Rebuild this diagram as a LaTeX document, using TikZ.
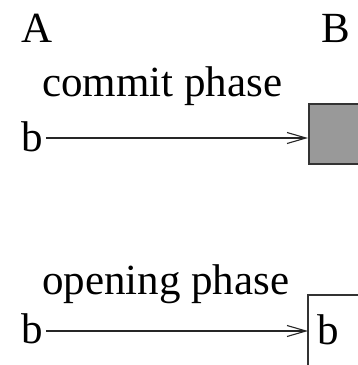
\documentclass[tikz,border=0pt]{standalone}
\usepackage{fontspec}
\setmainfont{Liberation Serif}
\usetikzlibrary{arrows.meta}
\begin{document}
\begin{tikzpicture}[x=1pt,y=-1pt,
  lbl/.style={inner sep=0pt,anchor=base west,font=\fontsize{43}{50}\selectfont},
  arr/.style={line width=1.3pt,draw=black!85,-{Straight Barb[length=19pt,width=11pt,line width=1.1pt]}},
  graybox/.style={draw=black!80,line width=1.5pt,fill=black!40,inner sep=0pt,minimum width=64pt,minimum height=60pt,anchor=north west},
  openbox/.style={inner sep=0pt,minimum width=64pt,minimum height=80pt,anchor=north west}
]
\useasboundingbox (0,0) rectangle (358,365);
\clip (0,0) rectangle (358,365);
\node[lbl] (A) at (21,42) {A};
\node[lbl] (B) at (321,42) {B};
\node[lbl] (commit) at (42,96) {commit phase};
\node[lbl] (b1) at (21,151) {b};
\node[graybox] (box1) at (308,103) {};
\draw[arr] ([xshift=3pt,yshift=13pt]b1.base east) -- ([yshift=13pt]b1.base -| box1.west);
\node[lbl] (opening) at (42,294) {opening phase};
\node[lbl] (b2) at (21,343) {b};
\node[openbox] (box2) at (308,295) {};
\draw[draw=black!80,line width=1.5pt] (box2.south west) -- (box2.north west) -- (box2.north east);
\node[lbl] (b3) at (317,344) {b};
\draw[arr] ([xshift=3pt,yshift=12pt]b2.base east) -- ([yshift=12pt]b2.base -| box2.west);
\end{tikzpicture}
\end{document}
